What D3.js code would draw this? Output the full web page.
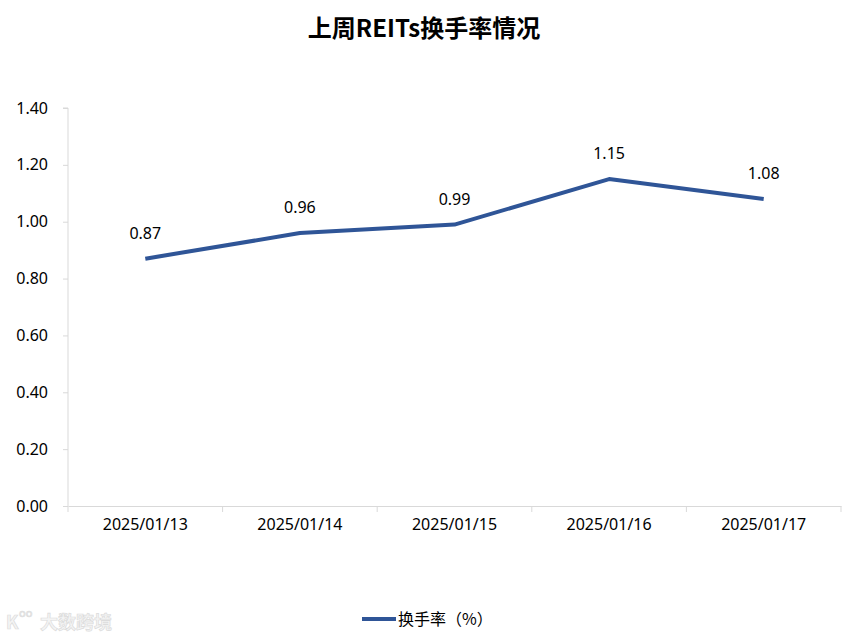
<!DOCTYPE html>
<html><head><meta charset="utf-8">
<script src="https://cdn.jsdelivr.net/npm/d3@7"></script>
<style>
html,body{margin:0;padding:0;background:#fff;}
svg{display:block;font-family:"Noto Sans CJK SC","Microsoft YaHei",sans-serif;}
</style></head>
<body>
<svg id="chart" width="855" height="637"></svg>
<script>
const title = "上周REITs换手率情况";
const categories = ["2025/01/13","2025/01/14","2025/01/15","2025/01/16","2025/01/17"];
const values = [0.87, 0.96, 0.99, 1.15, 1.08];
const yTicks = [0, 0.2, 0.4, 0.6, 0.8, 1.0, 1.2, 1.4];
const seriesName = "换手率（%）";

const svg = d3.select("#chart");
const m = {left: 68, right: 14, top: 108, bottom: 131};
const W = 855, H = 637;
const x = d3.scaleBand().domain(categories).range([m.left, W - m.right]);
const y = d3.scaleLinear().domain([0, 1.4]).range([H - m.bottom, m.top]);
const axisColor = "#d9d9d9";
const lineColor = "#2f5597";
const numFont = "'Noto Sans', 'DejaVu Sans', sans-serif";

svg.append("text").attr("x", 424).attr("y", 37).attr("text-anchor", "middle")
  .attr("font-size", 24).attr("font-weight", "bold").attr("fill", "#000").text(title);

// y axis
const ya = svg.append("g").attr("transform", `translate(${m.left},0)`)
  .call(d3.axisLeft(y).tickValues(yTicks).tickFormat(d3.format(".2f")).tickSize(5).tickPadding(15));
ya.select(".domain").attr("stroke", axisColor).attr("d", `M-5,${y(1.4)}H0V${y(0)}`);
ya.selectAll(".tick line").attr("stroke", axisColor);
ya.selectAll(".tick text").attr("font-size", 16).attr("fill", "#000").attr("font-family", numFont);

// x axis
const xa = svg.append("g").attr("transform", `translate(0,${y(0)})`)
  .call(d3.axisBottom(x).tickSize(0).tickPadding(13));
xa.select(".domain").attr("stroke", axisColor);
xa.selectAll(".tick text").attr("font-size", 16).attr("fill", "#000").attr("font-family", numFont);
const bounds = categories.map(c => x(c)).concat([x(categories[categories.length-1]) + x.bandwidth()]);
svg.append("g").selectAll("line").data(bounds).join("line")
  .attr("x1", d => d).attr("x2", d => d)
  .attr("y1", y(0)).attr("y2", y(0) + 6).attr("stroke", axisColor);

// line
const line = d3.line().x((d, i) => x(categories[i]) + x.bandwidth() / 2).y(d => y(d));
svg.append("path").datum(values).attr("d", line).attr("fill", "none")
  .attr("stroke", lineColor).attr("stroke-width", 4).attr("stroke-linejoin", "round");

svg.append("g").selectAll("text").data(values).join("text")
  .attr("x", (d, i) => x(categories[i]) + x.bandwidth() / 2)
  .attr("y", d => y(d) - 20).attr("text-anchor", "middle")
  .attr("font-size", 16).attr("fill", "#000").attr("font-family", numFont)
  .text(d => d3.format(".2f")(d));

// legend
svg.append("line").attr("x1", 362).attr("x2", 396).attr("y1", 619).attr("y2", 619)
  .attr("stroke", lineColor).attr("stroke-width", 4);
svg.append("text").attr("x", 398).attr("y", 625).attr("font-size", 16).attr("fill", "#000").text(seriesName);

// watermark
const wm = svg.append("g").attr("fill", "#f4f4f4").attr("stroke", "#dcdcdc").attr("stroke-width", 0.7);
wm.append("text").attr("x", 40).attr("y", 629).attr("font-size", 18).attr("font-weight", "bold").text("大数跨境");
wm.append("text").attr("x", 6).attr("y", 629).attr("font-size", 18).attr("font-weight", "bold").text("K");
wm.append("text").attr("x", 19).attr("y", 617).attr("font-size", 11).text("oo");
</script>
</body></html>
